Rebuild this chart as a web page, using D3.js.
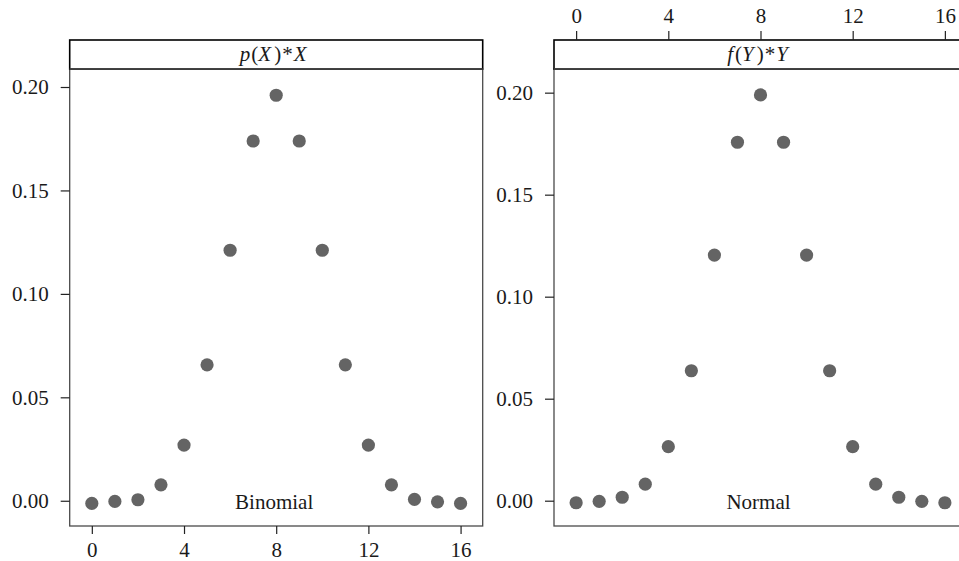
<!DOCTYPE html>
<html>
<head>
<meta charset="utf-8">
<script src="https://cdn.jsdelivr.net/npm/d3@7"></script>
<style>
  html, body { margin: 0; padding: 0; background: #fff; }
  svg { display: block; font-family: "Liberation Serif", "DejaVu Serif", serif; }
</style>
</head>
<body>
<svg id="chart" width="959" height="561"></svg>
<script>
// ---- data ----
const xValues = [0, 1, 2, 3, 4, 5, 6, 7, 8, 9, 10, 11, 12, 13, 14, 15, 16];
const binomialValues = [-0.0013, -0.0003, 0.0005, 0.0077, 0.0269, 0.0657, 0.1211, 0.1739, 0.1960,
                        0.1739, 0.1211, 0.0657, 0.0269, 0.0077, 0.0007, -0.0005, -0.0013];
const normalValues = [-0.0010, -0.0003, 0.0017, 0.0081, 0.0265, 0.0637, 0.1204, 0.1757, 0.1989,
                      0.1757, 0.1204, 0.0637, 0.0265, 0.0081, 0.0017, -0.0003, -0.0010];
const xTicks = [0, 4, 8, 12, 16];
const yTicks = [0.00, 0.05, 0.10, 0.15, 0.20];
const panelNames = ["Binomial", "Normal"];

const panels = [
  { name: panelNames[0], values: binomialValues, strip: [["p","i",0],["(","n",1],["X","i",0],[")","n",3],["*","n",1],["X","i",1]],
    left: 69.7, right: 482.7, yDomain: [-0.0122, 0.2087], xAxis: "bottom" },
  { name: panelNames[1], values: normalValues, strip: [["f","i",0],["(","n",2],["Y","i",0],[")","n",3],["*","n",1],["Y","i",1]],
    left: 554, right: 967, yDomain: [-0.0124, 0.2116], xAxis: "top" }
];

const svg = d3.select("#chart");
const stripTop = 40, panelTop = 69, panelBottom = 526;
const fontSize = 21;
const textColor = "#1a1a1a";

panels.forEach(p => {
  const x = d3.scaleLinear().domain([-0.96, 16.96]).range([p.left, p.right]);
  const y = d3.scaleLinear().domain(p.yDomain).range([panelBottom, panelTop]);
  const g = svg.append("g");

  // points
  g.selectAll("circle").data(xValues).join("circle")
    .attr("cx", d => x(d))
    .attr("cy", (d, i) => y(p.values[i]))
    .attr("r", 6.6)
    .attr("fill", "#646464");

  // annotation text
  g.append("text")
    .attr("x", x(8) - 2)
    .attr("y", 509)
    .attr("text-anchor", "middle")
    .attr("font-size", fontSize)
    .attr("fill", textColor)
    .text(p.name);

  // panel frame
  g.append("rect")
    .attr("x", p.left).attr("y", panelTop)
    .attr("width", p.right - p.left).attr("height", panelBottom - panelTop)
    .attr("fill", "none").attr("stroke", "#4a4a4a").attr("stroke-width", 1.3);

  // strip
  g.append("rect")
    .attr("x", p.left).attr("y", stripTop)
    .attr("width", p.right - p.left).attr("height", panelTop - stripTop)
    .attr("fill", "#fff").attr("stroke", "#000").attr("stroke-width", 1.6);
  g.append("line")
    .attr("x1", p.left).attr("x2", p.right)
    .attr("y1", panelTop).attr("y2", panelTop)
    .attr("stroke", "#4a4a4a").attr("stroke-width", 1.3);

  const st = g.append("text")
    .attr("x", (p.left + p.right) / 2 - 3)
    .attr("y", 61)
    .attr("text-anchor", "middle")
    .attr("font-size", fontSize)
    .attr("fill", textColor);
  p.strip.forEach(([s, style, gap]) => {
    st.append("tspan").attr("font-style", style === "i" ? "italic" : "normal")
      .attr("dx", gap).text(s);
  });

  // y axis
  const yAxis = d3.axisLeft(y).tickValues(yTicks).tickFormat(d3.format(".2f"))
    .tickSize(9).tickPadding(12);
  const ya = g.append("g").attr("transform", `translate(${p.left},0)`).call(yAxis);
  ya.select(".domain").remove();
  ya.selectAll(".tick line").attr("stroke", "#222").attr("stroke-width", 1.2);
  ya.selectAll(".tick text").attr("font-size", fontSize).attr("fill", textColor)
    .attr("font-family", "Liberation Serif");

  // x axis
  if (p.xAxis === "bottom") {
    const xAxis = d3.axisBottom(x).tickValues(xTicks).tickFormat(d3.format("d")).tickSize(8).tickPadding(8);
    const xa = g.append("g").attr("transform", `translate(0,${panelBottom})`).call(xAxis);
    xa.select(".domain").remove();
    xa.selectAll(".tick line").attr("stroke", "#222").attr("stroke-width", 1.2);
    xa.selectAll(".tick text").attr("font-size", fontSize).attr("fill", textColor)
      .attr("font-family", "Liberation Serif");
  } else {
    const xAxis = d3.axisTop(x).tickValues(xTicks).tickFormat(d3.format("d")).tickSize(9).tickPadding(8);
    const xa = g.append("g").attr("transform", `translate(0,${stripTop})`).call(xAxis);
    xa.select(".domain").remove();
    xa.selectAll(".tick line").attr("stroke", "#222").attr("stroke-width", 1.2);
    xa.selectAll(".tick text").attr("font-size", fontSize).attr("fill", textColor)
      .attr("font-family", "Liberation Serif");
  }
});
</script>
</body>
</html>
